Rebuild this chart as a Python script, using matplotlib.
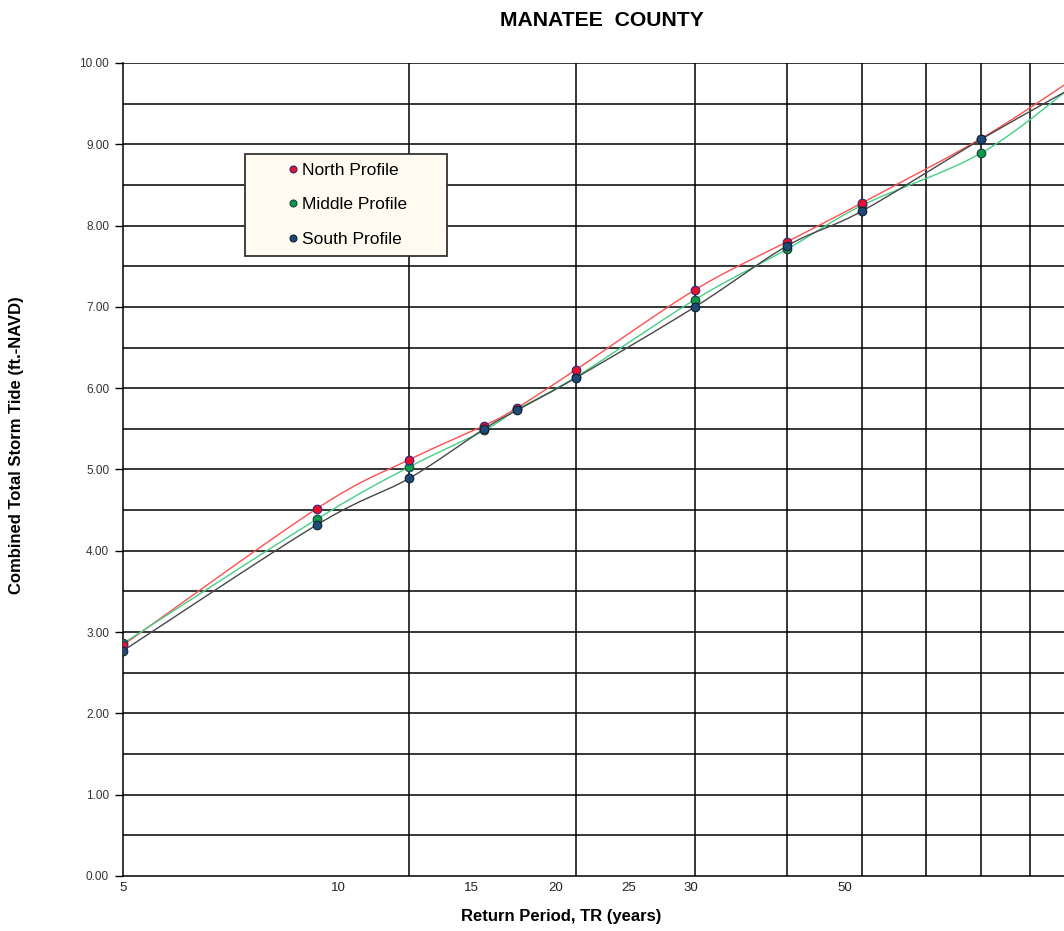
import numpy as np
import matplotlib
matplotlib.use("Agg")
import matplotlib.pyplot as plt
from matplotlib.lines import Line2D
from matplotlib.patches import Rectangle

# ---------------- data ----------------
return_period = [5, 8, 10, 12, 13, 15, 20, 25, 30, 40, 50]
north_profile = [2.84, 4.52, 5.12, 5.54, 5.76, 6.23, 7.21, 7.80, 8.28, 9.07, 9.80]
middle_profile = [2.86, 4.39, 5.03, 5.48, 5.74, 6.14, 7.09, 7.71, 8.25, 8.89, 9.72]
south_profile = [2.77, 4.32, 4.89, 5.50, 5.73, 6.13, 7.00, 7.75, 8.18, 9.06, 9.70]

x_tick_values = [5, 8.43, 11.62, 14.28, 17.02, 19.78, 28.78]
x_tick_labels = ["5", "10", "15", "20", "25", "30", "50"]
x_grid_values = [10, 15, 20, 25, 30, 35, 40, 45]
y_tick_values = [0, 1, 2, 3, 4, 5, 6, 7, 8, 9, 10]
y_grid_values = [0.5, 1.5, 2.5, 3.5, 4.5, 5.5, 6.5, 7.5, 8.5, 9.5]

series_names = ["North Profile", "Middle Profile", "South Profile"]

W, H = 1064, 931
fig = plt.figure(figsize=(W / 100, H / 100), dpi=100)
fig.patch.set_facecolor("white")

ax = fig.add_axes([123 / W, (H - 876) / H, 950 / W, (876 - 63) / H])
ax.set_xscale("log")
ax.set_xlim(5, 50)
ax.set_ylim(0, 10)


def smooth(xs, ys, n=40):
    """Excel-like smoothed line (Catmull-Rom Bezier) in log-x space."""
    u = np.log10(np.asarray(xs, float))
    v = np.asarray(ys, float)
    P = np.column_stack([u, v])
    m = len(P)
    out = []
    for i in range(m - 1):
        p0 = P[i - 1] if i > 0 else P[i]
        p1 = P[i]
        p2 = P[i + 1]
        p3 = P[i + 2] if i + 2 < m else P[i + 1]
        c1 = p1 + (p2 - p0) / 6.0
        c2 = p2 - (p3 - p1) / 6.0
        t = np.linspace(0, 1, n)[:, None]
        seg = ((1 - t) ** 3) * p1 + 3 * ((1 - t) ** 2) * t * c1 + 3 * (1 - t) * t ** 2 * c2 + t ** 3 * p2
        out.append(seg if i == 0 else seg[1:])
    out = np.vstack(out)
    return 10 ** out[:, 0], out[:, 1]


series = [
    (north_profile, "#FF4F4F", "#E8102A", "#2A2A80"),
    (middle_profile, "#45CF85", "#0A9A4A", "#1F3F3A"),
    (south_profile, "#474747", "#1F4A78", "#102030"),
]

# lines
for vals, lc, fc, ec in series:
    sx, sy = smooth(return_period, vals)
    ax.plot(sx, sy, color=lc, lw=1.0, zorder=3)

# markers (middle under north, south on top)
order = [1, 0, 2]
for k in order:
    vals, lc, fc, ec = series[k]
    ax.plot(return_period, vals, ls="none", marker="o", ms=6.2,
            mfc=fc, mec=ec, mew=0.8, zorder=4 + order.index(k), clip_on=True)

# grid
ax.set_xticks(x_grid_values, minor=True)
ax.set_xticks(x_tick_values)
ax.set_xticklabels(x_tick_labels, family=["Liberation Sans"], fontsize=9.5, color="#222222")
ax.tick_params(axis="x", which="both", length=0, pad=4)
ax.xaxis.set_minor_formatter(plt.NullFormatter())
for g in x_grid_values:
    ax.axvline(g, color="black", lw=1.1, zorder=1)

ax.set_yticks(y_tick_values)
ax.set_yticklabels([f"{v:.2f}" for v in y_tick_values], fontsize=8.5,
                   family=["Liberation Sans"], color="#333333")
ax.tick_params(axis="y", which="major", length=6, width=1.0, color="black", pad=4, direction="out")
ax.set_yticks(y_grid_values, minor=True)
ax.tick_params(axis="y", which="minor", length=0)
for g in y_grid_values + y_tick_values[1:]:
    ax.axhline(g, color="black", lw=1.1, zorder=1)

for s in ["top", "right"]:
    ax.spines[s].set_visible(False)
ax.spines["left"].set_linewidth(1.1)
ax.spines["bottom"].set_linewidth(1.1)

# texts
fig.text(602 / W, 1 - 20 / H, "MANATEE  COUNTY", ha="center", va="center",
         fontsize=15.2, fontweight="bold", family=["Liberation Sans"])
fig.text(561 / W, 1 - 917 / H, "Return Period, TR (years)", ha="center", va="center",
         fontsize=12, fontweight="bold", family=["Liberation Sans"])
fig.text(17 / W, 1 - 445 / H, "Combined Total Storm Tide (ft.-NAVD)", ha="center", va="center",
         rotation=90, fontsize=12, fontweight="bold", family=["Liberation Sans"])

# legend
box = Rectangle((245 / W, 1 - 256 / H), (447 - 245) / W, (256 - 154) / H,
                transform=fig.transFigure, facecolor="#FFFBF0", edgecolor="#333333",
                lw=1.3, zorder=4)
fig.patches.append(box)
handles = [Line2D([], [], ls="none", marker="o", ms=5, mfc=fc, mec=ec, mew=0.8)
           for vals, lc, fc, ec in series]
leg = fig.legend(handles, series_names, loc="upper left",
                 bbox_to_anchor=(288.7 / W, 1 - 163 / H), frameon=False,
                 borderpad=0, borderaxespad=0, handlelength=0.5, handletextpad=0.27,
                 labelspacing=1.1, prop={"family": "Liberation Sans", "size": 12.5})
leg.set_zorder(6)

fig.savefig("out.png", dpi=100)
